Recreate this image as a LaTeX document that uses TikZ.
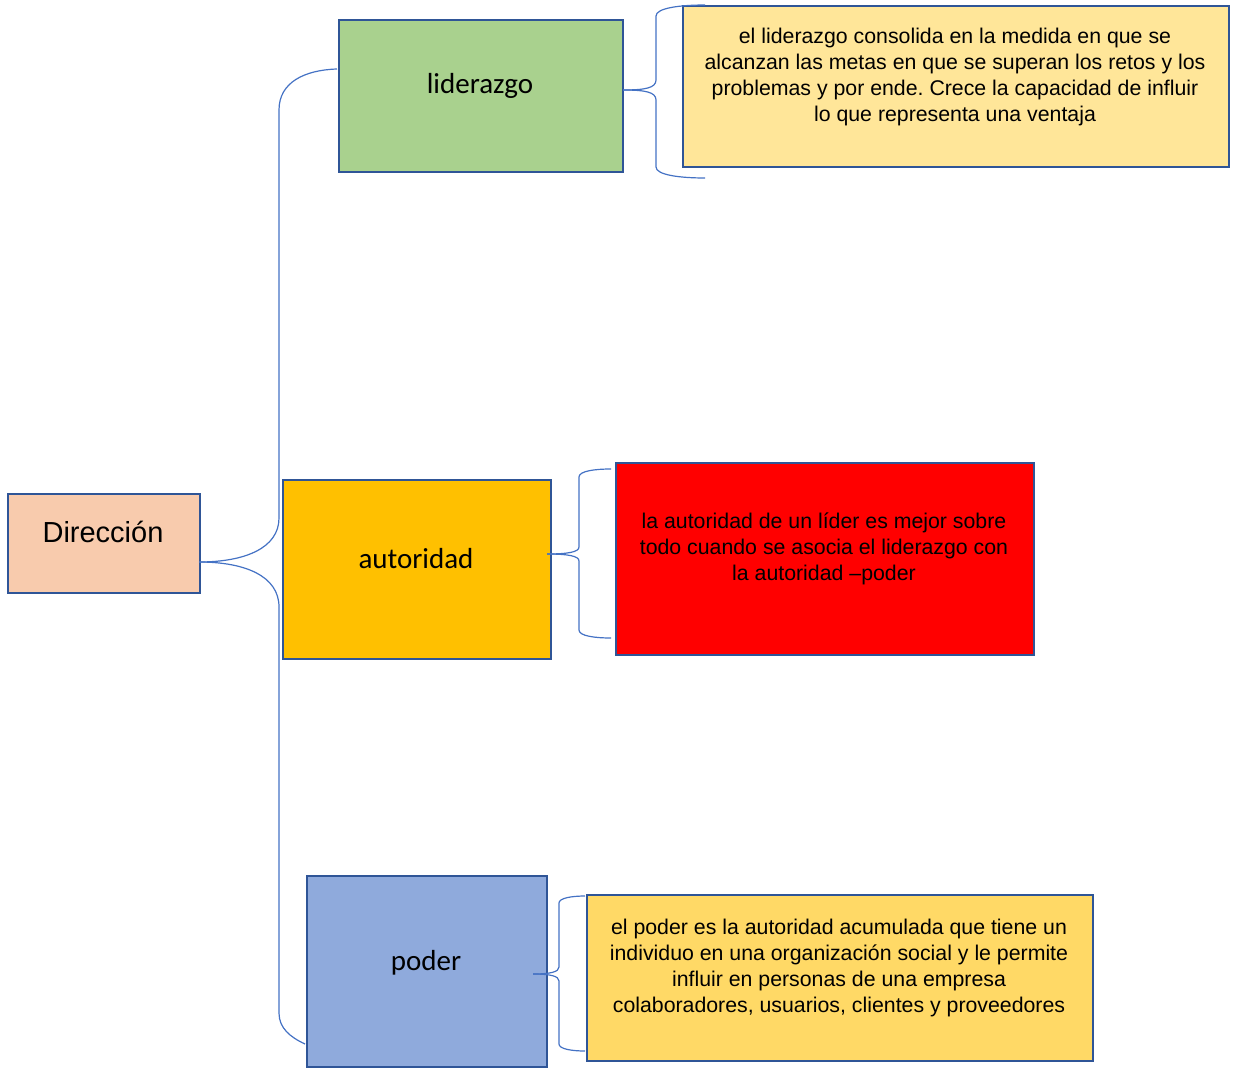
\documentclass[tikz,border=0pt]{standalone}
\usepackage{fontspec}
\setmainfont{Liberation Sans}
\newfontfamily\calib{Carlito}
\definecolor{bord}{HTML}{2F5597}
\definecolor{conncol}{HTML}{4472C4}
\definecolor{cdir}{HTML}{F8CBAD}
\definecolor{clid}{HTML}{A9D18E}
\definecolor{caut}{HTML}{FFC000}
\definecolor{cpod}{HTML}{8FAADC}
\definecolor{ctxa}{HTML}{FFE699}
\definecolor{ctxb}{HTML}{FF0000}
\definecolor{ctxc}{HTML}{FFD966}
\frenchspacing
\begin{document}
\begin{tikzpicture}[x=1pt,y=-1pt,
  box/.style={draw=bord, line width=2.4pt, anchor=north west, inner sep=0pt},
  conn/.style={draw=conncol, line width=1.2pt},
  lbl/.style={font=\calib\fontsize{29}{34}\selectfont, inner sep=0pt},
  desc/.style={font=\fontsize{21.3}{26}\selectfont, align=center, inner sep=0pt}]
\useasboundingbox (0,0) rectangle (1236,1073);
% boxes
\node[box, fill=cdir, minimum width=192pt, minimum height=99pt] (dir) at (7,493) {};
\node[box, fill=clid, minimum width=284pt, minimum height=152pt] (lid) at (338,19) {};
\node[box, fill=caut, minimum width=268pt, minimum height=179pt] (aut) at (282,479) {};
\node[box, fill=cpod, minimum width=240pt, minimum height=191pt] (pod) at (306,875) {};
\node[box, fill=ctxa, minimum width=546pt, minimum height=161pt] (ta) at (682,5) {};
\node[box, fill=ctxb, minimum width=418pt, minimum height=192pt] (tb) at (615,462) {};
\node[box, fill=ctxc, minimum width=506pt, minimum height=166pt] (tc) at (586,894) {};
% labels
\node[inner sep=0pt, font=\fontsize{29}{34}\selectfont] (ldir) at (103,532) {Dirección};
\node[lbl] (llid) at (480,86) {liderazgo};
\node[lbl] (laut) at (416,559) {autoridad};
\node[lbl] (lpod) at (426,963) {poder};
\node[desc] (dta) at (955,77) {el liderazgo consolida en la medida en que se\\alcanzan las metas en que se superan los retos y los\\problemas y por ende. Crece la capacidad de influir\\lo que representa una ventaja};
\node[desc] (dtb) at (824,549) {la autoridad de un líder es mejor sobre\\todo cuando se asocia el liderazgo con\\la autoridad –poder};
\node[desc] (dtc) at (839,968) {el poder es la autoridad acumulada que tiene un\\individuo en una organización social y le permite\\influir en personas de una empresa\\colaboradores, usuarios, clientes y proveedores};
% main brace
\coordinate (t0) at (199,562);
\coordinate (elid) at (337,69);
\coordinate (epod) at (305,1044);
\draw[conn] (t0) .. controls (245,562) and (279,548) .. (279,518) -- (279,110)
  .. controls (279,82) and (305,70) .. (elid);
\draw[conn] (t0) .. controls (245,562) and (279,576) .. (279,607) -- (279,1013)
  .. controls (279,1028) and (290,1037) .. (epod);
% brace liderazgo
\coordinate (t1) at (623,90);
\coordinate (a1) at (705,5);
\coordinate (b1) at (705,178);
\draw[conn] (t1) .. controls (645,90) and (656,88) .. (656,80) -- (656,16)
  .. controls (656,8) and (680,5) .. (a1);
\draw[conn] (t1) .. controls (645,90) and (656,92) .. (656,100) -- (656,167)
  .. controls (656,175) and (680,178) .. (b1);
% brace autoridad
\coordinate (t2) at (547,554);
\coordinate (a2) at (611,469);
\coordinate (b2) at (611,638);
\draw[conn] (t2) .. controls (568,554) and (579,552) .. (579,547) -- (579,477)
  .. controls (579,471) and (595,469) .. (a2);
\draw[conn] (t2) .. controls (568,554) and (579,556) .. (579,561) -- (579,630)
  .. controls (579,636) and (595,638) .. (b2);
% brace poder
\coordinate (t3) at (533,974);
\coordinate (a3) at (585,896);
\coordinate (b3) at (585,1051);
\draw[conn] (t3) .. controls (550,974) and (559,972) .. (559,967) -- (559,903)
  .. controls (559,898) and (572,896) .. (a3);
\draw[conn] (t3) .. controls (550,974) and (559,976) .. (559,981) -- (559,1044)
  .. controls (559,1049) and (572,1051) .. (b3);
\end{tikzpicture}
\end{document}
